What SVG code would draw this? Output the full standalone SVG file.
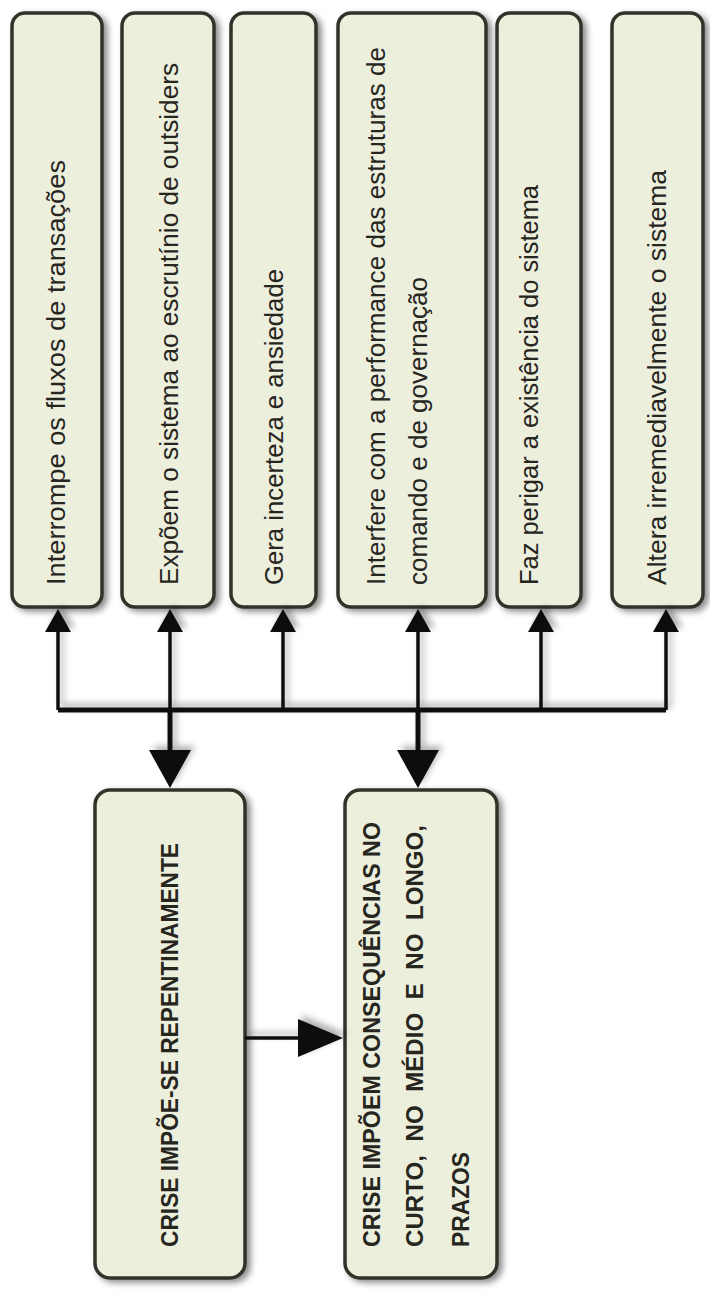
<svg xmlns="http://www.w3.org/2000/svg" width="710" height="1294" viewBox="0 0 710 1294">
<style>
.box{fill:#edefdd;stroke:#33332a;stroke-width:3.5;filter:url(#sh)}
.t{font-family:"Liberation Sans",Arial,sans-serif;font-size:25px;fill:#26261f}
.b{font-family:"Liberation Sans",Arial,sans-serif;font-size:24px;font-weight:bold;fill:#26261f}
.ln{stroke:#111;stroke-width:3.5;fill:none}
.lnb{stroke:#111;stroke-width:5;fill:none}
.ah{fill:#111}
</style>
<defs>
<filter id="sh" x="-20%" y="-5%" width="140%" height="110%">
<feDropShadow dx="4" dy="3" stdDeviation="3" flood-color="#000" flood-opacity="0.45"/>
</filter>
<filter id="ls" x="-20%" y="-20%" width="140%" height="140%">
<feDropShadow dx="4" dy="-4" stdDeviation="3" flood-color="#000" flood-opacity="0.3"/>
</filter>
</defs>
<rect width="710" height="1294" fill="#fff"/>
<g id="n1"><rect class="box" x="12" y="13" width="90" height="594" rx="13"/>
<text class="t" transform="translate(65,585) rotate(-90)" textLength="425" lengthAdjust="spacingAndGlyphs">Interrompe os fluxos de transações</text></g>
<g id="n2"><rect class="box" x="122" y="13" width="92" height="594" rx="13"/>
<text class="t" transform="translate(178,585) rotate(-90)" textLength="522" lengthAdjust="spacingAndGlyphs">Expõem o sistema ao escrutínio de outsiders</text></g>
<g id="n3"><rect class="box" x="231" y="13" width="85" height="594" rx="13"/>
<text class="t" transform="translate(283,585) rotate(-90)" textLength="316" lengthAdjust="spacingAndGlyphs">Gera incerteza e ansiedade</text></g>
<g id="n4"><rect class="box" x="338" y="13" width="148" height="594" rx="13"/>
<text class="t" transform="translate(385,585) rotate(-90)" textLength="538" lengthAdjust="spacingAndGlyphs">Interfere com a performance das estruturas de</text>
<text class="t" transform="translate(427,585) rotate(-90)" textLength="308" lengthAdjust="spacingAndGlyphs">comando e de governação</text></g>
<g id="n5"><rect class="box" x="497" y="13" width="84" height="594" rx="13"/>
<text class="t" transform="translate(538,585) rotate(-90)" textLength="400" lengthAdjust="spacingAndGlyphs">Faz perigar a existência do sistema</text></g>
<g id="n6"><rect class="box" x="612" y="13" width="91" height="594" rx="13"/>
<text class="t" transform="translate(666,585) rotate(-90)" textLength="415" lengthAdjust="spacingAndGlyphs">Altera irremediavelmente o sistema</text></g>
<g id="n7"><rect class="box" x="95" y="790" width="150" height="488" rx="15"/>
<text class="b" transform="translate(178,1247) rotate(-90)" textLength="404" lengthAdjust="spacingAndGlyphs">CRISE IMPÕE-SE REPENTINAMENTE</text></g>
<g id="n8"><rect class="box" x="345" y="790" width="152" height="488" rx="15"/>
<text class="b" transform="translate(380,1247) rotate(-90)" textLength="425" lengthAdjust="spacingAndGlyphs">CRISE IMPÕEM CONSEQUÊNCIAS NO</text>
<text class="b" transform="translate(423,1247) rotate(-90)" textLength="422" lengthAdjust="spacing" xml:space="preserve">CURTO,  NO  MÉDIO  E  NO  LONGO,</text>
<text class="b" transform="translate(469,1247) rotate(-90)" textLength="95" lengthAdjust="spacingAndGlyphs">PRAZOS</text></g>
<g id="connectors" filter="url(#ls)">
<path class="lnb" d="M58,710 H666"/>
<path class="ln" d="M58,710 V630 M170,710 V630 M283,710 V630 M418,710 V630 M541,710 V630 M666,710 V630"/>
<path class="ah" d="M58,609 L45,632 L71,632 Z M170,609 L157,632 L183,632 Z M283,609 L270,632 L296,632 Z M418,609 L405,632 L431,632 Z M541,609 L528,632 L554,632 Z M666,609 L653,632 L679,632 Z"/>
<path class="lnb" d="M170,710 V752 M418,710 V752"/>
<path class="ah" d="M170,788 L149,750 L191,750 Z M418,788 L397,750 L439,750 Z"/>
<path class="ln" d="M245,1038 H300"/>
<path class="ah" d="M343,1038 L298,1019 L298,1057 Z"/>
</g>
</svg>
